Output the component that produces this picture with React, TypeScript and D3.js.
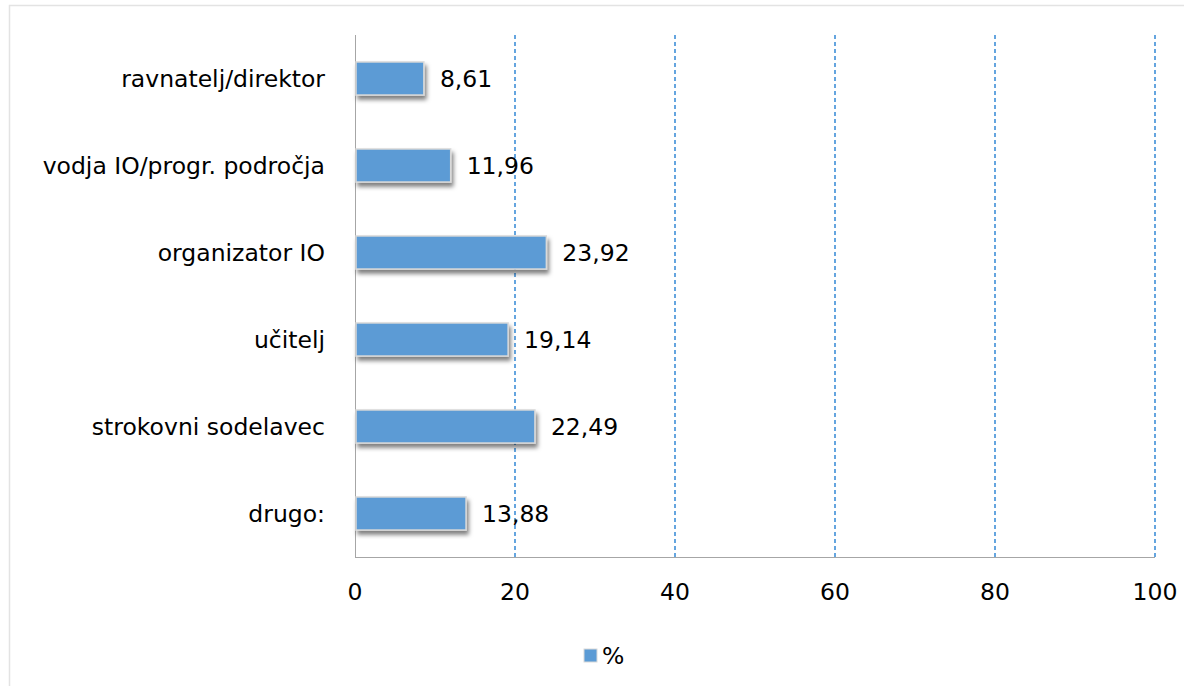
import React, { useEffect, useRef } from "react";
import * as d3 from "d3";

const categories = [
  "ravnatelj/direktor",
  "vodja IO/progr. področja",
  "organizator IO",
  "učitelj",
  "strokovni sodelavec",
  "drugo:",
];
const values = [8.61, 11.96, 23.92, 19.14, 22.49, 13.88];
const xTicks = [0, 20, 40, 60, 80, 100];
const seriesName = "%";

const W = 1184;
const H = 686;
const FONT = "'DejaVu Sans', Verdana, sans-serif";
const FS = 23.5;

export default function App() {
  const svgRef = useRef<SVGSVGElement>(null);

  useEffect(() => {
    const svg = d3.select(svgRef.current).attr("width", W).attr("height", H);
    svg.selectAll("*").remove();

    const left = 355;
    const right = 1155;
    const top = 35;
    const bottom = 557;

    const x = d3.scaleLinear().domain([0, 100]).range([left, right]);
    const y = d3
      .scaleBand<string>()
      .domain(categories)
      .range([top, bottom])
      .paddingInner(0.62)
      .paddingOuter(0.31);

    const defs = svg.append("defs");
    const f = defs
      .append("filter")
      .attr("id", "shadow")
      .attr("x", "-10%")
      .attr("y", "-30%")
      .attr("width", "130%")
      .attr("height", "180%");
    f.append("feDropShadow")
      .attr("dx", 2)
      .attr("dy", 4)
      .attr("stdDeviation", 2.2)
      .attr("flood-color", "#000")
      .attr("flood-opacity", 0.5);

    // outer frame
    svg
      .append("rect")
      .attr("x", 9.5)
      .attr("y", 5.5)
      .attr("width", W + 20)
      .attr("height", H + 20)
      .attr("fill", "#fff")
      .attr("stroke", "#e3e3e3")
      .attr("stroke-width", 1.5);

    // dashed gridlines
    svg
      .append("g")
      .selectAll("line")
      .data(xTicks.filter((t) => t > 0))
      .enter()
      .append("line")
      .attr("x1", (d) => Math.round(x(d)))
      .attr("x2", (d) => Math.round(x(d)))
      .attr("y1", top)
      .attr("y2", bottom)
      .attr("stroke", "#3f8fd8")
      .attr("stroke-width", 1.6)
      .attr("stroke-dasharray", "4,3");

    // axes lines
    svg
      .append("line")
      .attr("x1", left + 0.5)
      .attr("x2", left + 0.5)
      .attr("y1", top)
      .attr("y2", bottom + 1)
      .attr("stroke", "#a6a6a6")
      .attr("stroke-width", 1);
    svg
      .append("line")
      .attr("x1", left)
      .attr("x2", right)
      .attr("y1", bottom + 0.5)
      .attr("y2", bottom + 0.5)
      .attr("stroke", "#a6a6a6")
      .attr("stroke-width", 1);

    // bars
    svg
      .append("g")
      .selectAll("rect")
      .data(values)
      .enter()
      .append("rect")
      .attr("x", left + 1)
      .attr("y", (d, i) => y(categories[i])!)
      .attr("width", (d) => x(d) - left - 1)
      .attr("height", y.bandwidth())
      .attr("fill", "#5b9bd5")
      .attr("stroke", "#d9d9d9")
      .attr("stroke-width", 1.5)
      .attr("filter", "url(#shadow)");

    // value labels
    svg
      .append("g")
      .selectAll("text")
      .data(values)
      .enter()
      .append("text")
      .attr("x", (d) => x(d) + 16)
      .attr("y", (d, i) => y(categories[i])! + y.bandwidth() / 2)
      .attr("dy", "0.36em")
      .attr("font-family", FONT)
      .attr("font-size", FS)
      .attr("fill", "#000")
      .text((d) => d.toFixed(2).replace(".", ","));

    // category labels
    svg
      .append("g")
      .selectAll("text")
      .data(categories)
      .enter()
      .append("text")
      .attr("x", left - 30)
      .attr("y", (d) => y(d)! + y.bandwidth() / 2)
      .attr("dy", "0.36em")
      .attr("text-anchor", "end")
      .attr("font-family", FONT)
      .attr("font-size", FS)
      .attr("fill", "#000")
      .text((d) => d);

    // x tick labels
    svg
      .append("g")
      .selectAll("text")
      .data(xTicks)
      .enter()
      .append("text")
      .attr("x", (d) => x(d))
      .attr("y", 592)
      .attr("dy", "0.36em")
      .attr("text-anchor", "middle")
      .attr("font-family", FONT)
      .attr("font-size", FS)
      .attr("fill", "#000")
      .text((d) => String(d));

    // legend
    const lg = svg.append("g").attr("transform", "translate(584,649)");
    lg.append("rect")
      .attr("width", 13)
      .attr("height", 13)
      .attr("fill", "#5b9bd5")
      .attr("stroke", "#d9d9d9")
      .attr("stroke-width", 1);
    lg.append("text")
      .attr("x", 18)
      .attr("y", 7)
      .attr("dy", "0.36em")
      .attr("font-family", FONT)
      .attr("font-size", FS)
      .attr("fill", "#000")
      .text(seriesName);
  }, []);

  return (
    <div style={{ position: "absolute", left: 0, top: 0 }}>
      <svg ref={svgRef} style={{ display: "block" }} />
    </div>
  );
}
